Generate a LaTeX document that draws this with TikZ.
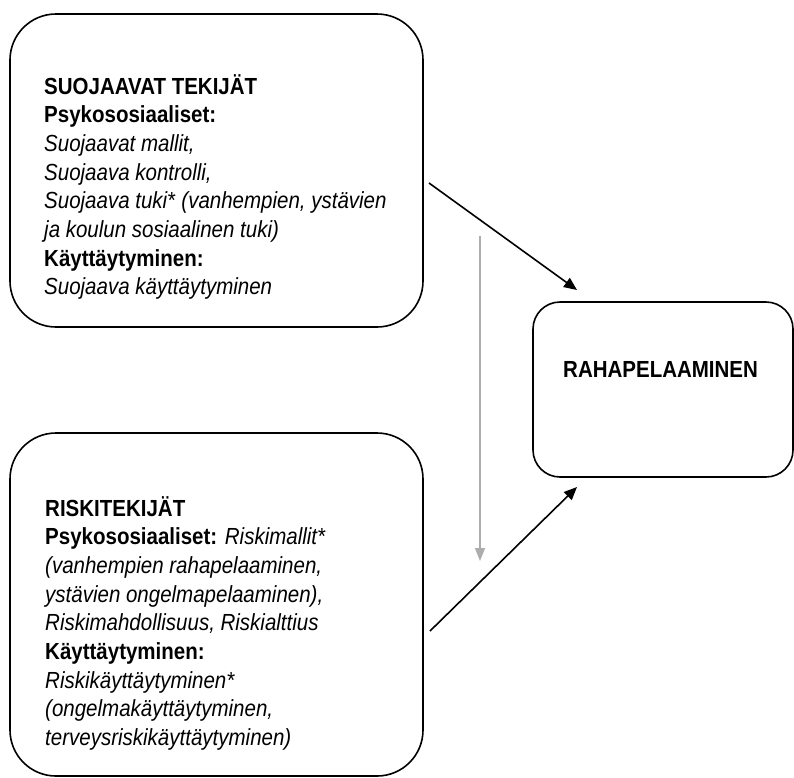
\documentclass[tikz,border=0pt]{standalone}
\usepackage{fontspec}
\setmainfont[FakeStretch=0.88]{Liberation Sans}
\usetikzlibrary{arrows.meta}
\begin{document}
\begin{tikzpicture}[x=1pt,y=-1pt,
  factorbox/.style={draw, line width=1.6pt, rounded corners=46pt, inner sep=0pt,
    minimum width=413pt},
  outcomebox/.style={draw, line width=1.6pt, rounded corners=27pt, inner sep=0pt,
    minimum width=260pt, minimum height=175pt},
  boxtext/.style={anchor=base west, inner sep=0pt, font=\fontsize{23.3}{28.7}\selectfont},
  link/.style={line width=1.6pt, -{Triangle[length=13pt,width=11pt]}},
  greylink/.style={line width=1.4pt, draw=black!32, -{Triangle[length=13pt,width=10pt]}}]
  \useasboundingbox (0,0) rectangle (794,777);

  % boxes
  \node[factorbox, minimum height=313pt] (protect) at (216.5,170.5) {};
  \node[factorbox, minimum height=343pt] (risk) at (216.5,604.5) {};
  \node[outcomebox] (gambling) at (663,389.5) {};

  % box contents
  \node[boxtext] (protecttext) at (44,94) {\begin{tabular}[t]{@{}l@{}}
    \textbf{SUOJAAVAT TEKIJÄT}\\
    \textbf{Psykososiaaliset:}\\
    \textit{Suojaavat mallit,}\\
    \textit{Suojaava kontrolli,}\\
    \textit{Suojaava tuki}* \textit{(vanhempien, ystävien}\\
    \textit{ja koulun sosiaalinen tuki)}\\
    \textbf{Käyttäytyminen:}\\
    \textit{Suojaava käyttäytyminen}
  \end{tabular}};
  \node[boxtext] (risktext) at (45,516) {\begin{tabular}[t]{@{}l@{}}
    \textbf{RISKITEKIJÄT}\\
    \textbf{Psykososiaaliset:} \textit{Riskimallit*}\\
    \textit{(vanhempien rahapelaaminen,}\\
    \textit{ystävien ongelmapelaaminen),}\\
    \textit{Riskimahdollisuus, Riskialttius}\\
    \textbf{Käyttäytyminen:}\\
    \textit{Riskikäyttäytyminen*}\\
    \textit{(ongelmakäyttäytyminen,}\\
    \textit{terveysriskikäyttäytyminen)}
  \end{tabular}};
  \node[boxtext] (gamblingtext) at (563,377) {\textbf{RAHAPELAAMINEN}};

  % connector end points
  \coordinate (protectout) at (429,183);
  \coordinate (gamblingtop) at (577,290);
  \coordinate (riskout) at (430,631);
  \coordinate (gamblingbottom) at (577,487);
  \coordinate (greystart) at (480,236);
  \coordinate (greyend) at (480,561);

  \draw[link] (protectout) -- (gamblingtop);
  \draw[link] (riskout) -- (gamblingbottom);
  \draw[greylink] (greystart) -- (greyend);
\end{tikzpicture}
\end{document}
